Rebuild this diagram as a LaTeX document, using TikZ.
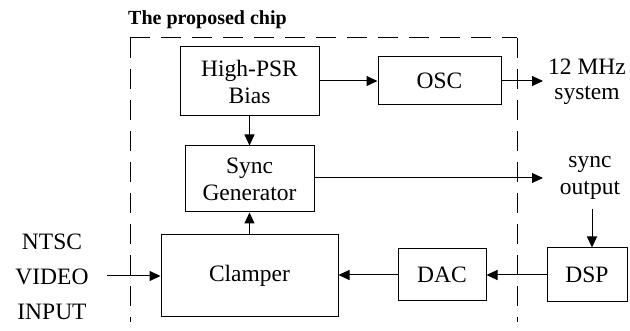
\documentclass[tikz,border=0pt]{standalone}
\usepackage{fontspec}
\setmainfont{Liberation Serif}
\usetikzlibrary{arrows.meta}
\begin{document}
\begin{tikzpicture}[x=1pt,y=-1pt,
  blk/.style={draw, line width=1pt, inner sep=0pt, align=center,
    font=\fontsize{23.5}{27}\selectfont},
  lbl/.style={inner sep=0pt, align=center, font=\fontsize{23.5}{25}\selectfont},
  arr/.style={line width=1pt, -{Triangle[length=11pt,width=10pt]}},
  chip/.style={line width=1pt, dash pattern=on 20pt off 11pt}]
\useasboundingbox (0,0) rectangle (630,331);

% chip boundary (open at the bottom)
\coordinate (ctl) at (130,38);
\coordinate (ctr) at (517,38);
\coordinate (cbl) at (130,322);
\coordinate (cbr) at (517,322);
\draw[chip] (ctl) -- (cbl);
\draw[chip] (ctl) -- (ctr);
\draw[chip] (ctr) -- (cbr);
\node[anchor=west, inner sep=0pt, font=\fontsize{20}{22}\bfseries] (title) at (128,20) {The proposed chip};

% blocks
\node[blk, minimum width=139pt, minimum height=69pt] (bias) at (249.5,81.5) {High-PSR\\Bias};
\node[blk, minimum width=123pt, minimum height=48pt] (osc) at (439.5,81) {OSC};
\node[blk, minimum width=129pt, minimum height=66pt] (sync) at (249.5,179) {Sync\\Generator};
\node[blk, minimum width=177pt, minimum height=82pt] (clamp) at (249.5,276) {Clamper};
\node[blk, minimum width=88pt, minimum height=52pt] (dac) at (442,275) {DAC};
\node[blk, minimum width=80pt, minimum height=54pt] (dsp) at (587,275) {DSP};

% external labels
\node[lbl] (clk) at (587,81.5) {12 MHz\\system};
\node[lbl, font=\fontsize{23.5}{27}\selectfont] (syncout) at (590,178) {sync\\output};
\node[inner sep=0pt, align=center, font=\fontsize{23.5}{35}\selectfont] (ntsc) at (52,277) {NTSC\\VIDEO\\INPUT};

% connector ends
\coordinate (clkend) at (543,81);
\coordinate (syncend) at (543,178);
\coordinate (dspin) at (592,209);
\coordinate (vin) at (107,276);

% connectors
\draw[arr] (bias.east |- osc.west) -- (osc.west);
\draw[arr] (osc.east) -- (clkend);
\draw[arr] (bias.south) -- (sync.north);
\draw[arr] (clamp.north) -- (sync.south);
\draw[arr] (sync.east |- syncend) -- (syncend);
\draw[arr] (dspin) -- (dspin |- dsp.north);
\draw[arr] (dsp.west |- dac.east) -- (dac.east);
\draw[arr] (dac.west) -- (dac.west -| clamp.east);
\draw[arr] (vin) -- (vin -| clamp.west);
\end{tikzpicture}
\end{document}
